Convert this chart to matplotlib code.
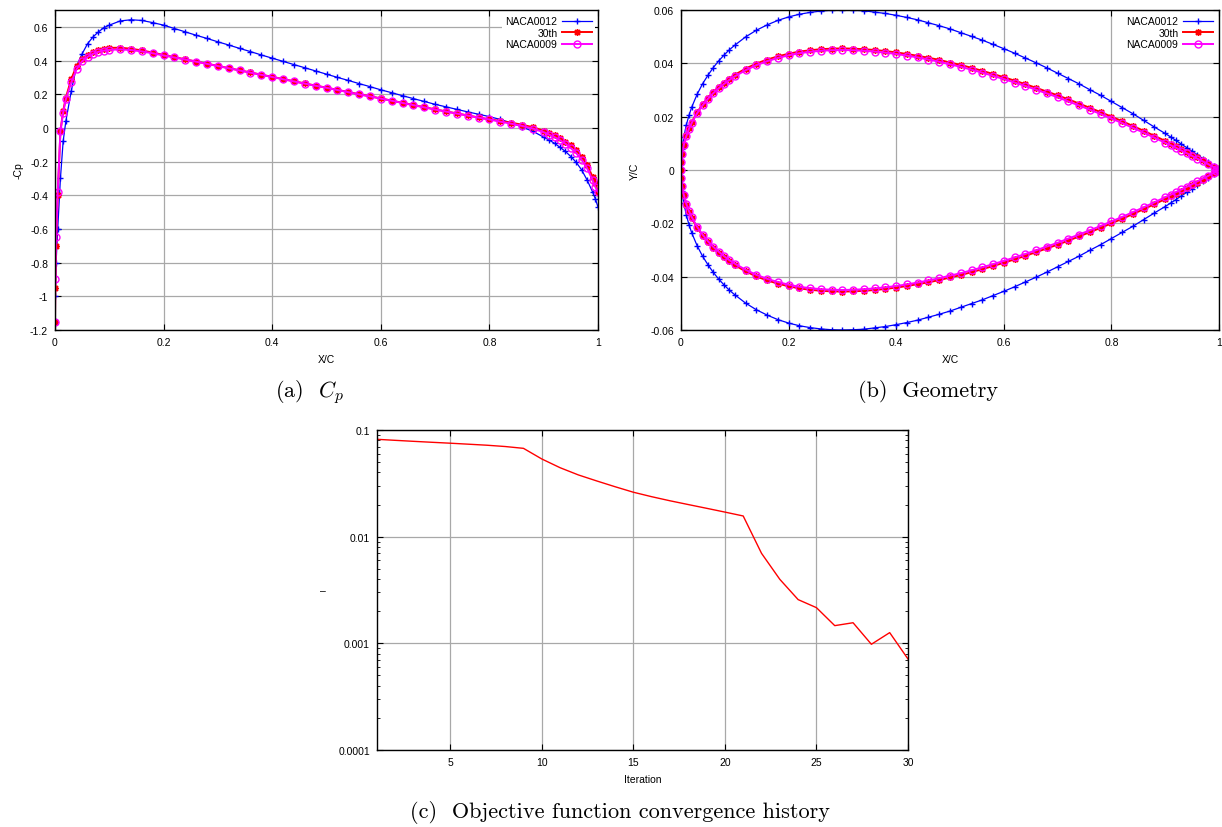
import numpy as np
import matplotlib
matplotlib.use("Agg")
import matplotlib.pyplot as plt
from matplotlib import ticker

plt.rcParams['font.family'] = ['Liberation Sans', 'DejaVu Sans']
plt.rcParams['axes.unicode_minus'] = False
plt.rcParams['mathtext.fontset'] = 'cm'

# chordwise stations (shared by Cp and geometry curves)
xs = [0.0, 0.0005, 0.002, 0.005, 0.01, 0.015, 0.02, 0.03, 0.04, 0.05, 0.06, 0.07,
      0.08, 0.09, 0.10, 0.12, 0.14, 0.16, 0.18, 0.20, 0.22, 0.24, 0.26, 0.28, 0.30,
      0.32, 0.34, 0.36, 0.38, 0.40, 0.42, 0.44, 0.46, 0.48, 0.50, 0.52, 0.54, 0.56,
      0.58, 0.60, 0.62, 0.64, 0.66, 0.68, 0.70, 0.72, 0.74, 0.76, 0.78, 0.80, 0.82,
      0.84, 0.86, 0.88, 0.90, 0.91, 0.92, 0.93, 0.94, 0.95, 0.96, 0.97, 0.98, 0.99,
      0.995, 1.0]

# -Cp
cp_0012 = [-1.15, -1.0, -0.8, -0.6, -0.3, -0.08, 0.04, 0.22, 0.37, 0.44, 0.50, 0.54,
           0.57, 0.595, 0.61, 0.635, 0.642, 0.638, 0.625, 0.61, 0.590, 0.570, 0.550,
           0.531, 0.511, 0.492, 0.472, 0.453, 0.433, 0.414, 0.395, 0.376, 0.357, 0.338,
           0.319, 0.300, 0.282, 0.263, 0.245, 0.226, 0.209, 0.191, 0.174, 0.157, 0.140,
           0.125, 0.110, 0.095, 0.081, 0.067, 0.050, 0.030, 0.005, -0.02, -0.055,
           -0.072, -0.092, -0.115, -0.14, -0.17, -0.205, -0.25, -0.31, -0.38, -0.42, -0.47]
cp_30th = [-1.15, -0.95, -0.7, -0.4, -0.02, 0.10, 0.18, 0.29, 0.37, 0.41, 0.435, 0.452,
           0.463, 0.47, 0.475, 0.476, 0.47, 0.46, 0.447, 0.433, 0.420, 0.407, 0.394,
           0.381, 0.368, 0.355, 0.342, 0.329, 0.316, 0.303, 0.290, 0.277, 0.264, 0.251,
           0.239, 0.226, 0.213, 0.200, 0.188, 0.175, 0.162, 0.149, 0.136, 0.123, 0.110,
           0.098, 0.086, 0.074, 0.062, 0.051, 0.041, 0.031, 0.019, 0.004, -0.017,
           -0.029, -0.044, -0.061, -0.081, -0.104, -0.134, -0.17, -0.22, -0.29, -0.33, -0.38]
cp_0009 = [-1.15, -0.9, -0.65, -0.38, -0.02, 0.09, 0.17, 0.27, 0.35, 0.395, 0.422, 0.44,
           0.452, 0.459, 0.463, 0.466, 0.462, 0.454, 0.443, 0.43, 0.418, 0.406, 0.393,
           0.380, 0.367, 0.354, 0.341, 0.328, 0.315, 0.302, 0.289, 0.276, 0.263, 0.250,
           0.238, 0.225, 0.212, 0.199, 0.187, 0.174, 0.161, 0.148, 0.135, 0.122, 0.109,
           0.097, 0.085, 0.073, 0.061, 0.050, 0.037, 0.025, 0.012, -0.004, -0.026,
           -0.04, -0.055, -0.073, -0.094, -0.12, -0.15, -0.19, -0.24, -0.31, -0.35, -0.38]

# half thickness Y/C (symmetric sections)
yt_0012 = [0.0, 0.0039, 0.0078, 0.0122, 0.0170, 0.0206, 0.0236, 0.0284, 0.0323, 0.0355,
           0.0384, 0.0409, 0.0431, 0.0451, 0.0468, 0.0499, 0.0524, 0.0544, 0.0561, 0.0574,
           0.0584, 0.0591, 0.0596, 0.0599, 0.0600, 0.0599, 0.0597, 0.0592, 0.0587, 0.0580,
           0.0572, 0.0563, 0.0552, 0.0541, 0.0529, 0.0515, 0.0501, 0.0487, 0.0471, 0.0455,
           0.0438, 0.0420, 0.0402, 0.0383, 0.0363, 0.0343, 0.0323, 0.0301, 0.0280, 0.0257,
           0.0234, 0.0211, 0.0186, 0.0161, 0.0137, 0.0124, 0.0111, 0.0097, 0.0084, 0.0070,
           0.0057, 0.0043, 0.0029, 0.0014, 0.0007, 0.0]
yt_30th = [0.0, 0.0030, 0.0060, 0.0093, 0.0130, 0.0157, 0.0180, 0.0216, 0.0246, 0.0271,
           0.0293, 0.0311, 0.0328, 0.0343, 0.0357, 0.0380, 0.0399, 0.0414, 0.0426, 0.0436,
           0.0444, 0.0449, 0.0453, 0.0455, 0.0456, 0.0455, 0.0453, 0.0450, 0.0446, 0.0441,
           0.0435, 0.0428, 0.0421, 0.0413, 0.0403, 0.0394, 0.0383, 0.0372, 0.0360, 0.0348,
           0.0335, 0.0322, 0.0308, 0.0294, 0.0280, 0.0265, 0.0249, 0.0233, 0.0217, 0.0200,
           0.0183, 0.0165, 0.0147, 0.0128, 0.0109, 0.0099, 0.0089, 0.0079, 0.0068, 0.0058,
           0.0047, 0.0036, 0.0024, 0.0012, 0.0006, 0.0]
yt_0009 = [0.0, 0.0030, 0.0059, 0.0092, 0.0128, 0.0155, 0.0177, 0.0213, 0.0242, 0.0267,
           0.0288, 0.0306, 0.0323, 0.0338, 0.0351, 0.0374, 0.0393, 0.0408, 0.0420, 0.0430,
           0.0438, 0.0443, 0.0447, 0.0449, 0.0450, 0.0449, 0.0447, 0.0444, 0.0440, 0.0435,
           0.0429, 0.0422, 0.0414, 0.0406, 0.0396, 0.0387, 0.0376, 0.0365, 0.0353, 0.0341,
           0.0328, 0.0315, 0.0301, 0.0287, 0.0273, 0.0257, 0.0242, 0.0226, 0.0210, 0.0193,
           0.0176, 0.0158, 0.0140, 0.0121, 0.0102, 0.0093, 0.0083, 0.0073, 0.0063, 0.0053,
           0.0042, 0.0032, 0.0022, 0.0011, 0.0005, 0.0]

# objective function history
iters = list(range(1, 31))
objective = [0.0818, 0.0800, 0.0783, 0.0767, 0.0752, 0.0736, 0.0720, 0.0700, 0.0673,
             0.0535, 0.0443, 0.0379, 0.0333, 0.0294, 0.0261, 0.0237, 0.0217, 0.0200,
             0.01845, 0.0170, 0.01563, 0.00698, 0.00398, 0.00257, 0.00216, 0.001465,
             0.00156, 0.00098, 0.00126, 0.000713]

names = ['NACA0012', '30th', 'NACA0009']
colors = ['#0000ff', '#ff0000', '#ff00ff']
markers = ['+', (8, 2, 0), 'o']
lws = [0.9, 1.4, 1.4]

fs = 7.5
grid_c = '#a8a8a8'

fig = plt.figure(figsize=(12.22, 8.28), dpi=100)
ax1 = fig.add_axes([55/1222, 1-331/828, 543/1222, 320/828])
ax2 = fig.add_axes([681/1222, 1-331/828, 538/1222, 320/828])
ax3 = fig.add_axes([377/1222, 1-751/828, 531/1222, 320/828])


def style(ax):
    ax.grid(True, color=grid_c, lw=0.9)
    ax.set_axisbelow(True)
    ax.tick_params(direction='in', top=True, right=True, length=4, width=0.8,
                   labelsize=fs, pad=5)
    ax.tick_params(which='minor', direction='in', top=True, right=True, length=2, width=0.6)
    for s in ax.spines.values():
        s.set_linewidth(1.0)
    ax.xaxis.set_major_formatter(ticker.FuncFormatter(lambda v, p: f"{v:g}"))
    ax.yaxis.set_major_formatter(ticker.FuncFormatter(lambda v, p: f"{v:g}"))


def legend(ax):
    leg = ax.legend(loc='upper right', markerfirst=False, frameon=True, fontsize=fs,
                    handlelength=2.9, handletextpad=0.4, labelspacing=0.15,
                    borderaxespad=0.3, borderpad=0.3, framealpha=1.0)
    leg.get_frame().set_edgecolor('none')
    leg.get_frame().set_boxstyle('square', pad=0.0)


x = np.array(xs)
cps = [cp_0012, cp_30th, cp_0009]
yts = [yt_0012, yt_30th, yt_0009]

for cp, n, c, m, lw in zip(cps, names, colors, markers, lws):
    mfc = 'none' if m == 'o' else c
    ax1.plot(x, cp, color=c, lw=lw, marker=m, ms=5, mfc=mfc, mew=1.0, label=n)
ax1.set_xlim(0, 1)
ax1.set_ylim(-1.2, 0.7)
ax1.set_yticks([0.6, 0.4, 0.2, 0, -0.2, -0.4, -0.6, -0.8, -1, -1.2])
ax1.set_xticks([0, 0.2, 0.4, 0.6, 0.8, 1])
style(ax1)
ax1.set_xlabel('X/C', fontsize=fs)
ax1.xaxis.set_label_coords(0.5, -0.075)
ax1.set_ylabel('-Cp', fontsize=fs)
ax1.yaxis.set_label_coords(-0.058, 0.5)
legend(ax1)

for yt, n, c, m, lw in zip(yts, names, colors, markers, lws):
    yt = np.array(yt)
    gx = np.concatenate([x[::-1], x[1:]])
    gy = np.concatenate([yt[::-1], -yt[1:]])
    mfc = 'none' if m == 'o' else c
    ax2.plot(gx, gy, color=c, lw=lw, marker=m, ms=5, mfc=mfc, mew=1.0, label=n)
ax2.set_xlim(0, 1)
ax2.set_ylim(-0.06, 0.06)
ax2.set_yticks([0.06, 0.04, 0.02, 0, -0.02, -0.04, -0.06])
ax2.set_xticks([0, 0.2, 0.4, 0.6, 0.8, 1])
style(ax2)
ax2.set_xlabel('X/C', fontsize=fs)
ax2.xaxis.set_label_coords(0.5, -0.075)
ax2.set_ylabel('Y/C', fontsize=fs)
ax2.yaxis.set_label_coords(-0.076, 0.5)
legend(ax2)

ax3.plot(iters, objective, color='#ff0000', lw=1.0)
ax3.set_yscale('log')
ax3.set_xlim(1, 30)
ax3.set_ylim(1e-4, 0.1)
ax3.set_xticks([5, 10, 15, 20, 25, 30])
style(ax3)
ax3.yaxis.set_minor_locator(ticker.LogLocator(base=10, subs=np.arange(2, 10)))
ax3.yaxis.set_minor_formatter(ticker.NullFormatter())
ax3.grid(False, which='minor')
ax3.set_xlabel('Iteration', fontsize=fs)
ax3.xaxis.set_label_coords(0.5, -0.075)
ax3.set_ylabel('\u2013', fontsize=fs, rotation=0, va='center', ha='center')
ax3.yaxis.set_label_coords(-0.102, 0.5)

cap = dict(fontsize=16, family='cmr10', ha='center', va='center')
fig.text(309/1222, 1-392/828, '(a)  $C_p$', **cap)
fig.text(928/1222, 1-392/828, '(b)  Geometry', **cap)
fig.text(620/1222, 1-813/828, '(c)  Objective function convergence history', **cap)

fig.savefig('out.png', dpi=100)
